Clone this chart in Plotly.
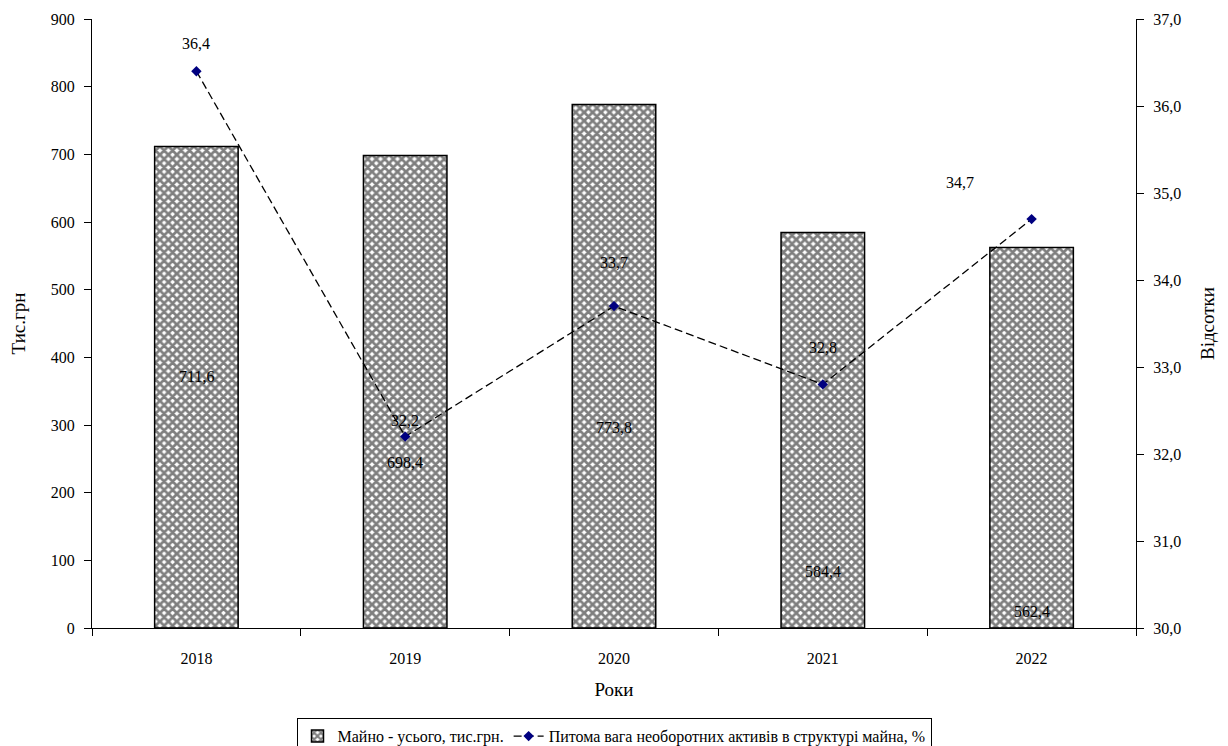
import plotly.graph_objects as go

years = ["2018", "2019", "2020", "2021", "2022"]
assets = [711.6, 698.4, 773.8, 584.4, 562.4]
share = [36.4, 32.2, 33.7, 32.8, 34.7]
asset_labels = ["711,6", "698,4", "773,8", "584,4", "562,4"]
share_labels = ["36,4", "32,2", "33,7", "32,8", "34,7"]
# label placement (data units)
asset_label_y = [371, 245, 296, 83, 24]
share_label_y = [36.72, 32.39, 34.2, 33.22, 35.12]
share_label_dx = [0, 0, 0, 0, -72]

left_ticks = list(range(0, 901, 100))
right_ticks = [30, 31, 32, 33, 34, 35, 36, 37]
right_tick_text = [f"{v},0" for v in right_ticks]

FONT = "Liberation Serif, Times New Roman, serif"
TXT = dict(family=FONT, size=16, color="black")

bars = go.Bar(
    x=years, y=assets, name="Майно - усього, тис.грн.",
    width=0.4,
    marker=dict(color="white", line=dict(color="black", width=1.5),
                pattern=dict(shape="x", size=6, solidity=0.7,
                             fgcolor="black", bgcolor="white")),
    yaxis="y",
)
line = go.Scatter(
    x=years, y=share, name="Питома вага необоротних активів в структурі майна, %",
    mode="lines+markers",
    line=dict(color="black", width=1.3, dash="8px,4px"),
    marker=dict(symbol="diamond", color="#000080", size=8),
    yaxis="y2",
)

fig = go.Figure(data=[bars, line])

for i, (t, yy) in enumerate(zip(asset_labels, asset_label_y)):
    fig.add_annotation(x=i, y=yy, xref="x", yref="y", text=t, showarrow=False, font=TXT)
for i, (t, yy, dx) in enumerate(zip(share_labels, share_label_y, share_label_dx)):
    fig.add_annotation(x=i, y=yy, xref="x", yref="y2", text=t, showarrow=False,
                       xshift=dx, font=TXT)

fig.update_layout(
    width=1220, height=746,
    margin=dict(l=84, r=92, t=11, b=126),
    paper_bgcolor="white", plot_bgcolor="white",
    font=TXT,
    showlegend=True,
    legend=dict(orientation="h", x=0.5, xanchor="center",
                yref="container", y=0.048, yanchor="top",
                bordercolor="black", borderwidth=1, font=TXT,
                tracegroupgap=0),
    xaxis=dict(type="category", categoryorder="array", categoryarray=years,
               range=[-0.5, 4.5], automargin=False,
               title=dict(text="Роки", standoff=16), showline=True,
               linecolor="black", linewidth=1, ticks="outside", ticklen=7,
               tickcolor="black", tickson="boundaries", showgrid=False, tickangle=0,
               ticklabelstandoff=16),
    yaxis=dict(title=dict(text="Тис.грн", standoff=20), range=[0, 900],
               automargin=False,
               tickvals=left_ticks, showline=True, linecolor="black", linewidth=1,
               ticks="outside", ticklen=7, tickcolor="black", showgrid=False,
               zeroline=False, ticklabelstandoff=6),
    yaxis2=dict(title=dict(text="Відсотки", standoff=20), range=[30, 37],
                automargin=False,
                overlaying="y", side="right", tickvals=right_ticks,
                ticktext=right_tick_text, showline=True, linecolor="black",
                linewidth=1, ticks="outside", ticklen=7, tickcolor="black",
                showgrid=False, zeroline=False, ticklabelstandoff=6),
)

fig.write_html("out.html")
